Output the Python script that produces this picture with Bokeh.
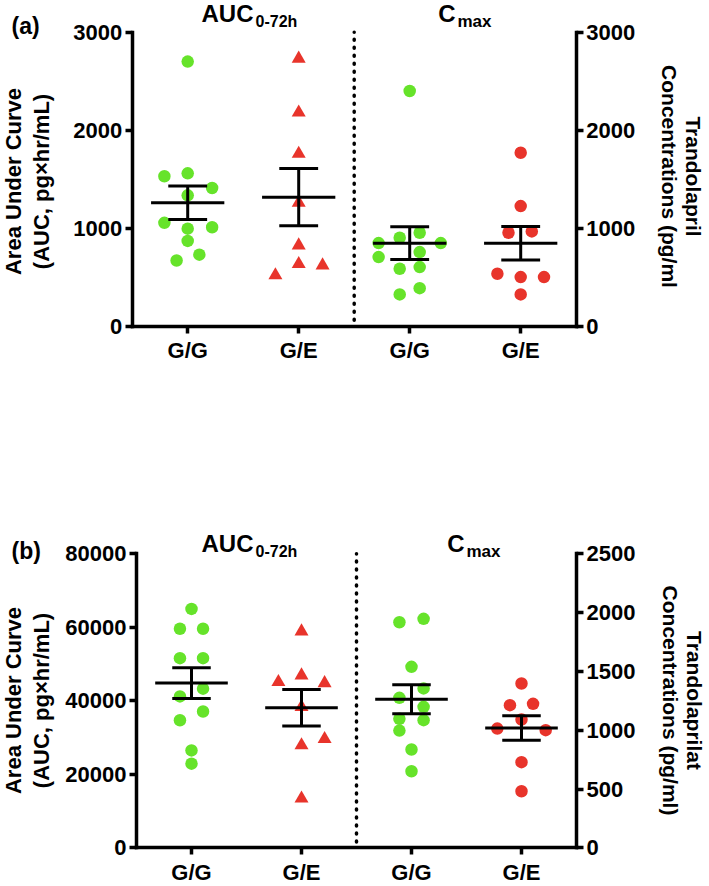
import math
import numpy as np

from bokeh.plotting import figure
from bokeh.models import Range1d, LinearAxis, FixedTicker, Label
from bokeh.layouts import column
from bokeh.embed import file_html
from bokeh.resources import INLINE

FONT = "Liberation Sans"
GREEN = "#66e32a"
RED = "#e8342b"
PAGE_W = 709

# categories on the x axis (AUC half, then Cmax half)
tick_pos = [1, 2, 3, 4]
tick_labels = ["G/G", "G/E", "G/G", "G/E"]

# (a) trandolapril: AUC (pg*hr/mL) and Cmax (pg/ml), with scatter offsets
a_auc_gg = [2700, 1530, 1560, 1335, 1410, 1055, 995, 1010, 870, 670, 730]
a_auc_gg_dx = [0, -0.21, 0, 0, 0.22, -0.21, 0, 0.22, 0, -0.10, 0.105]
a_auc_ge = [2730, 2180, 1760, 1260, 825, 635, 620, 520]
a_auc_ge_dx = [0, 0, 0, 0, 0, 0, 0.215, -0.21]
a_cmax_gg = [2400, 848, 705, 903, 954, 848, 756, 586, 603, 324, 388]
a_cmax_gg_dx = [0, -0.28, -0.28, -0.09, 0.09, 0.28, 0.09, -0.09, 0.09, -0.09, 0.09]
a_cmax_ge = [1770, 1226, 954, 967, 535, 501, 501, 324]
a_cmax_ge_dx = [0, 0, -0.11, 0.10, -0.21, 0, 0.21, 0]
a_auc_ticks = [0, 1000, 2000, 3000]
a_cmax_ticks = [0, 1000, 2000, 3000]

# (b) trandolaprilat
b_auc_gg = [65000, 59600, 59600, 51600, 51600, 43300, 41200, 37100, 34700, 26500, 22900]
b_auc_gg_dx = [0, -0.105, 0.105, -0.105, 0.105, 0.105, -0.105, 0.105, -0.105, 0, 0]
b_auc_ge = [58900, 46900, 45100, 44800, 38300, 29600, 27900, 13400]
b_auc_ge_dx = [0, 0, -0.21, 0.21, 0, 0.21, 0, 0]
b_cmax_gg = [1918, 1947, 1539, 1355, 1275, 1199, 1097, 1085, 997, 836, 651]
b_cmax_gg_dx = [-0.11, 0.11, 0, 0.11, -0.11, 0.11, -0.11, 0.11, -0.11, 0, 0]
b_cmax_ge = [1397, 1213, 1224, 1091, 1014, 1000, 728, 481]
b_cmax_ge_dx = [0, -0.105, 0.105, 0, -0.22, 0.22, 0, 0]
b_auc_ticks = [0, 20000, 40000, 60000, 80000]
b_cmax_ticks = [0, 500, 1000, 1500, 2000, 2500]

LEFT_LABEL = "Area Under Curve\n(AUC, pg\u00d7hr/mL)"


def mean_sem(vals):
    v = np.array(vals, dtype=float)
    return v.mean(), v.std(ddof=1) / np.sqrt(len(v))


def style_axis(ax):
    ax.axis_line_width = 3.5
    ax.axis_line_color = "black"
    ax.axis_line_cap = "square"
    ax.major_tick_line_width = 3.5
    ax.major_tick_line_color = "black"
    ax.major_tick_out = 7
    ax.major_tick_in = 0
    ax.minor_tick_line_color = None
    ax.major_label_text_font = FONT
    ax.major_label_text_font_style = "bold"
    ax.major_label_text_font_size = "22px"
    ax.major_label_text_color = "black"
    ax.major_label_standoff = 3


def draw_group(p, center, vals, dx, marker, color, range_name="default"):
    xs = [center + d for d in dx]
    size = 12.5 if marker == "circle" else 14
    p.scatter(xs, vals, marker=marker, size=size, fill_color=color,
              line_color=None, y_range_name=range_name)
    m, s = mean_sem(vals)
    p.segment(x0=[center - 0.33, center, center - 0.175, center - 0.175],
              y0=[m, m - s, m + s, m - s],
              x1=[center + 0.33, center, center + 0.175, center + 0.175],
              y1=[m, m + s, m + s, m - s],
              line_color="black", line_width=3, y_range_name=range_name)


def make_panel(tag, groups, auc_ticks, cmax_ticks, right_label, geom, texts):
    fig_h = geom["fig_h"]
    auc_top = auc_ticks[-1]
    cmax_top = cmax_ticks[-1]
    span_x = geom["right"] - geom["left"]
    span_y = geom["bottom"] - geom["top"]

    # pixel position inside this figure -> data value
    def X(px):
        return 0.5 + (px - geom["left"]) * 4.0 / span_x

    def Y(py, top=auc_top):
        return (geom["bottom"] - py) * top / span_y

    p = figure(width=PAGE_W, height=fig_h,
               x_range=Range1d(X(0), X(PAGE_W)), y_range=Range1d(Y(fig_h), Y(0)),
               output_backend="svg", toolbar_location=None, min_border=0)
    p.extra_y_ranges = {"cmax": Range1d(Y(fig_h, cmax_top), Y(0, cmax_top))}
    p.title.visible = False
    p.xgrid.visible = False
    p.ygrid.visible = False
    p.outline_line_color = None

    xax = p.xaxis[0]
    style_axis(xax)
    xax.fixed_location = 0
    xax.bounds = (0.5, 4.5)
    xax.ticker = FixedTicker(ticks=tick_pos)
    xax.major_label_overrides = dict(zip(tick_pos, tick_labels))
    xax.major_label_standoff = 5

    yax = p.yaxis[0]
    style_axis(yax)
    yax.fixed_location = 0.5
    yax.bounds = (0, auc_top)
    yax.ticker = FixedTicker(ticks=auc_ticks)

    rax = LinearAxis(y_range_name="cmax", fixed_location=4.5, bounds=(0, cmax_top))
    style_axis(rax)
    rax.ticker = FixedTicker(ticks=cmax_ticks)
    p.add_layout(rax, "right")

    auc_gg, auc_gg_dx, auc_ge, auc_ge_dx, cmax_gg, cmax_gg_dx, cmax_ge, cmax_ge_dx = groups
    draw_group(p, 1, auc_gg, auc_gg_dx, "circle", GREEN)
    draw_group(p, 2, auc_ge, auc_ge_dx, "triangle", RED)
    draw_group(p, 3, cmax_gg, cmax_gg_dx, "circle", GREEN, "cmax")
    draw_group(p, 4, cmax_ge, cmax_ge_dx, "circle", RED, "cmax")

    # dotted divider between the AUC and Cmax halves
    p.segment(x0=[2.5], y0=[auc_top * 0.02], x1=[2.5], y1=[auc_top],
              line_color="black", line_width=3.5, line_dash="1 7", line_cap="round")

    # texts are anchored at their vertical middle
    def put(text, px, py, size, align="left", angle=0.0, lh=1.2):
        p.add_layout(Label(x=X(px), y=Y(py), text=text, text_font=FONT,
                           text_font_style="bold", text_font_size=size,
                           text_align=align, text_baseline="middle",
                           angle=angle, text_line_height=lh, text_color="black"))

    put(tag, texts["tag"][0], texts["tag"][1], "23px")
    put("AUC", texts["auc"][0], texts["auc"][1], "24px", "right")
    put("0-72h", texts["auc_sub"][0], texts["auc_sub"][1], "16px")
    put("C", texts["c"][0], texts["c"][1], "24px", "right")
    put("max", texts["c_sub"][0], texts["c_sub"][1], "17px")
    put(LEFT_LABEL, texts["left"][0], texts["left"][1], "22px", "center", math.pi / 2, 1.12)
    put(right_label, texts["right"][0], texts["right"][1], "21px", "center", -math.pi / 2, 1.08)
    return p


geom_a = dict(fig_h=468, left=131.7, right=575.7, top=31.7, bottom=325.7)
text_a = dict(tag=(11, 25.5), auc=(253, 12.5), auc_sub=(255, 21), c=(455, 12.5), c_sub=(457, 21),
              left=(27, 181), right=(681, 176))

off = 474  # panel (b) reference offset; figure starts at 468, so content sits 6px higher
geom_b = dict(fig_h=416, left=136.0, right=576.0, top=559.3 - off, bottom=853.3 - off)
text_b = dict(tag=(11, 556.5 - off), auc=(253, 549.2 - off), auc_sub=(255, 556.7 - off),
              c=(464, 549.2 - off), c_sub=(466, 556.7 - off),
              left=(27, 706 - off), right=(682, 706 - off))

pa = make_panel("(a)",
                (a_auc_gg, a_auc_gg_dx, a_auc_ge, a_auc_ge_dx,
                 a_cmax_gg, a_cmax_gg_dx, a_cmax_ge, a_cmax_ge_dx),
                a_auc_ticks, a_cmax_ticks,
                "Trandolapril\nConcentrations (pg/ml", geom_a, text_a)

pb = make_panel("(b)",
                (b_auc_gg, b_auc_gg_dx, b_auc_ge, b_auc_ge_dx,
                 b_cmax_gg, b_cmax_gg_dx, b_cmax_ge, b_cmax_ge_dx),
                b_auc_ticks, b_cmax_ticks,
                "Trandolaprilat\nConcentrations (pg/ml)", geom_b, text_b)

layout = column(pa, pb)

open("out.html", "w").write(file_html(layout, INLINE))
